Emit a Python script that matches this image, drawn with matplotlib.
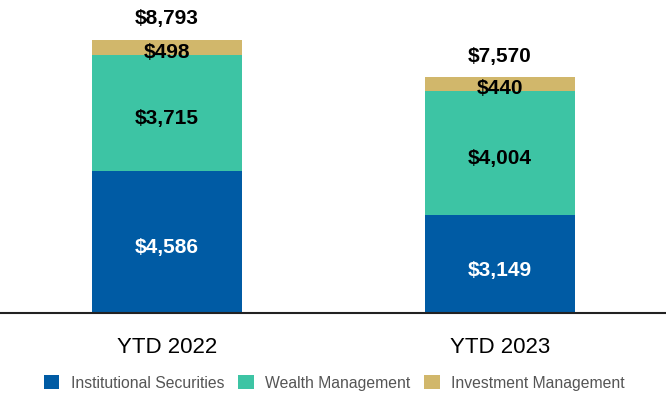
import numpy as np
import matplotlib.pyplot as plt
from matplotlib.patches import Patch

plt.rcParams['font.family'] = ['Liberation Sans', 'DejaVu Sans']

periods = ["YTD 2022", "YTD 2023"]
institutional = [4586, 3149]
wealth = [3715, 4004]
investment = [498, 440]
totals = [8793, 7570]

segments = ["Institutional Securities", "Wealth Management", "Investment Management"]
colors = ["#005BA4", "#3DC4A4", "#D1B76B"]
text_colors = ["white", "black", "black"]

fig = plt.figure(figsize=(6.66, 3.96), dpi=100)
ax = fig.add_axes([0, 0.2096, 1, 0.7904])

x = np.arange(len(periods))
width = 0.45
bottom = np.zeros(len(periods))
for vals, col, tcol in zip([institutional, wealth, investment], colors, text_colors):
    vals = np.array(vals)
    ax.bar(x, vals, width, bottom=bottom, color=col, edgecolor="none")
    for xi, b, v in zip(x, bottom, vals):
        # labels sit a little below the middle of each segment
        yy = b + v / 2 - 190
        if v < 1000:
            yy = b + v * 0.35 - 80
        ax.text(xi, yy, f"${v:,}", ha="center", va="center",
                color=tcol, fontsize=15, fontweight="bold")
    bottom += vals

for xi, t in zip(x, totals):
    ax.text(xi, t + 680, f"${t:,}", ha="center", va="center",
            fontsize=15, fontweight="bold", color="black")

ax.set_xlim(-0.5015, 1.4985)
ax.set_ylim(0, 10080)
for s in ["top", "right", "left"]:
    ax.spines[s].set_visible(False)
ax.spines["bottom"].set_linewidth(1.5)
ax.spines["bottom"].set_color("#222222")
ax.set_yticks([])
ax.set_xticks(x)
ax.set_xticklabels(periods, fontsize=16)
ax.tick_params(axis="x", length=0, pad=17)

handles = [Patch(facecolor=c, edgecolor="none") for c in colors]
fig.legend(handles, segments, loc="center", bbox_to_anchor=(0.502, 0.033),
           ncol=3, frameon=False, fontsize=11.3, labelcolor="#555555",
           handlelength=1.0, handleheight=1.0, handletextpad=0.75,
           columnspacing=0.85)

fig.savefig("out.png", dpi=100)
